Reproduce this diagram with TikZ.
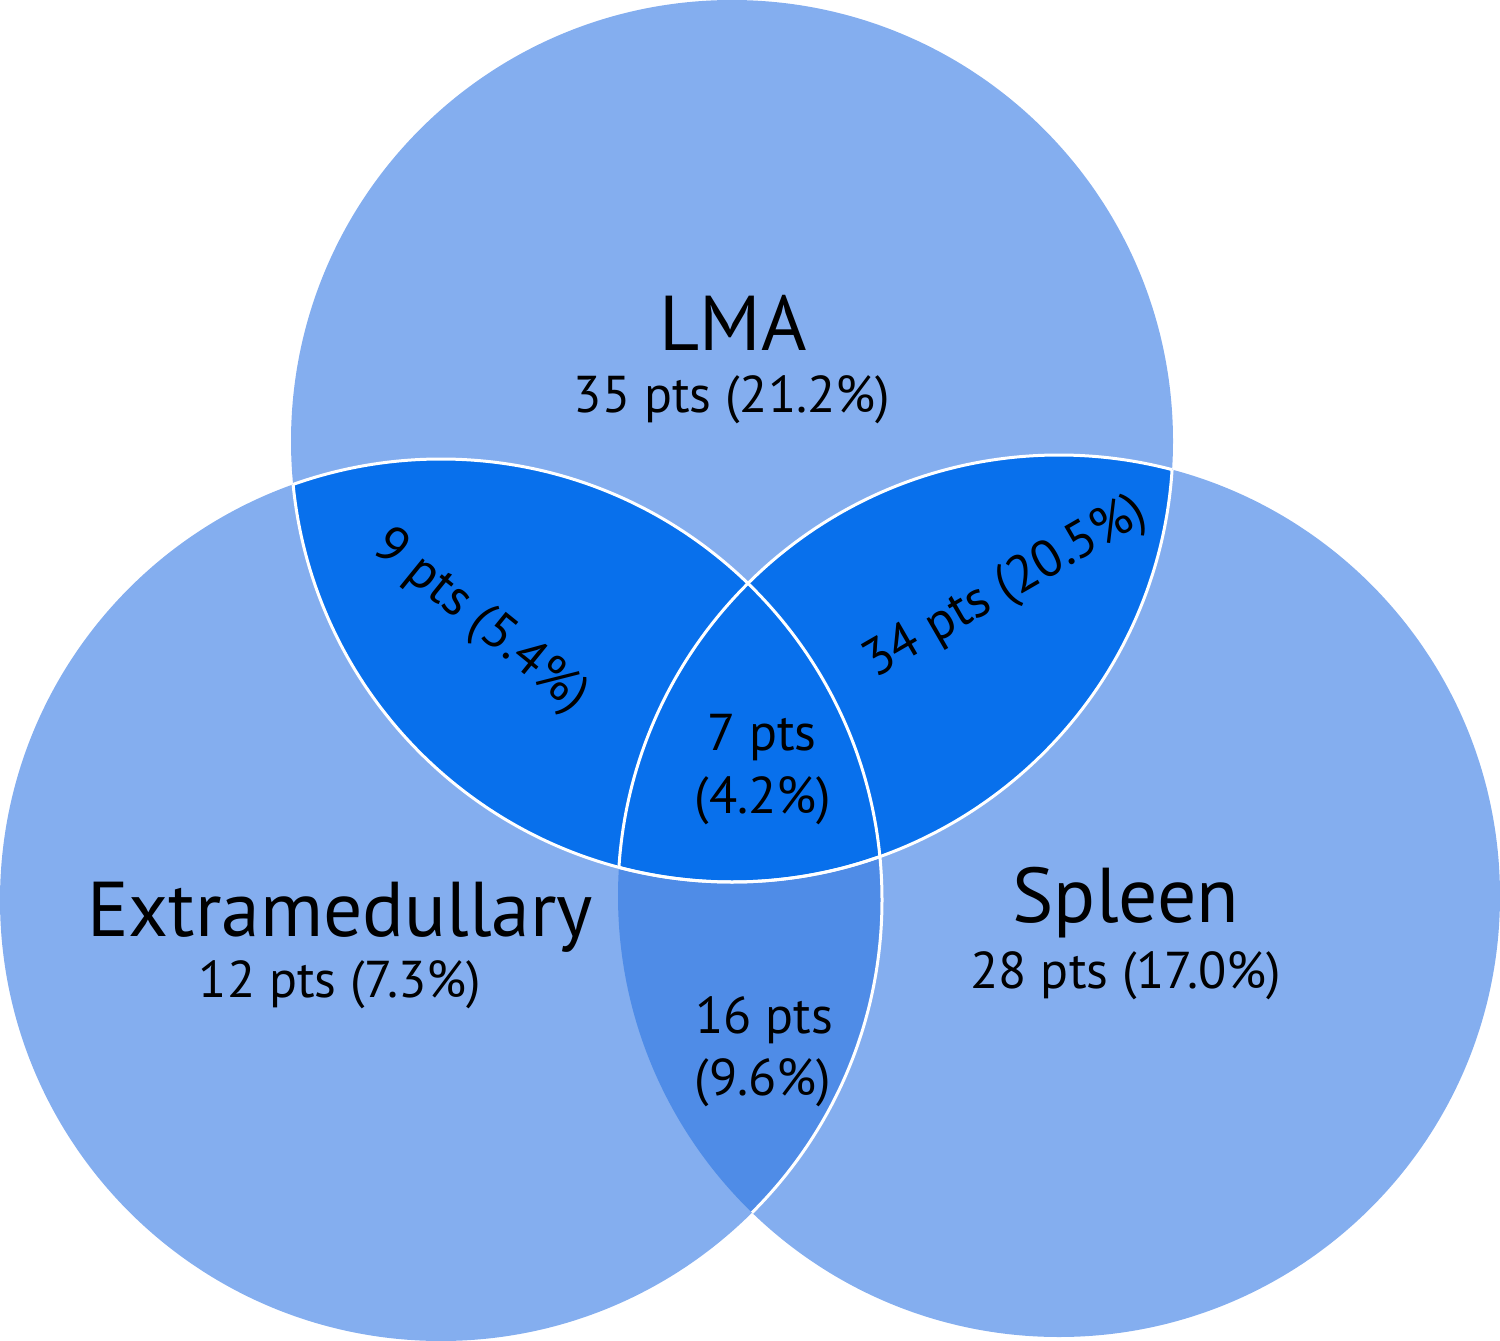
\documentclass[tikz,border=0pt]{standalone}
\usepackage{fontspec}
\setmainfont{PT Sans}
\usepackage{xcolor}
\usepackage{tikz}
\usetikzlibrary{positioning}
\definecolor{setlight}{RGB}{132,174,239}
\definecolor{setdark}{RGB}{8,112,236}
\definecolor{setmid}{RGB}{79,140,231}

\begin{document}
\begin{tikzpicture}[
  x=1bp, y=1bp,
  rim/.style={draw=white, line width=3bp},
  title/.style={anchor=base, inner sep=0pt, font=\fontsize{78}{80}\selectfont},
  count/.style={anchor=base, inner sep=0pt, font=\fontsize{52}{56}\selectfont},
  tilted/.style={inner sep=0pt, font=\fontsize{52}{56}\selectfont}
]
\useasboundingbox (0,0) rectangle (1500,-1341);
\def\rad{441}

\coordinate (lma)    at (732,-441);
\coordinate (extra)  at (441,-900);
\coordinate (spleen) at (1059,-896);

% plain sets
\fill[setlight] (lma) circle[radius=\rad];
\fill[setlight] (extra) circle[radius=\rad];
\fill[setlight] (spleen) circle[radius=\rad];

% extramedullary + spleen
\begin{scope}
  \clip (extra) circle[radius=\rad];
  \fill[setmid] (spleen) circle[radius=\rad];
\end{scope}
\begin{scope}
  \clip (spleen) circle[radius=\rad];
  \draw[rim] (extra) circle[radius=\rad];
\end{scope}

% overlaps with LMA
\begin{scope}
  \clip (lma) circle[radius=\rad];
  \fill[setdark] (extra) circle[radius=\rad];
  \fill[setdark] (spleen) circle[radius=\rad];
  \draw[rim] (extra) circle[radius=\rad];
  \draw[rim] (spleen) circle[radius=\rad];
\end{scope}
\begin{scope}
  \clip (extra) circle[radius=\rad];
  \draw[rim] (lma) circle[radius=\rad];
\end{scope}
\begin{scope}
  \clip (spleen) circle[radius=\rad];
  \draw[rim] (lma) circle[radius=\rad];
\end{scope}

% labels
\node[title] (lmaname)    at (733,-351)  {LMA};
\node[count] (lmacount)   at (732,-412)  {35 pts (21.2\%)};
\node[title] (extraname)  at (340,-936)  {Extramedullary};
\node[count] (extracount) at (340,-997)  {12 pts (7.3\%)};
\node[title] (spleenname) at (1126,-922) {Spleen};
\node[count] (spleencount) at (1126,-988) {28 pts (17.0\%)};

\node[count] (allcount)  at (762,-750)  {7 pts};
\node[count] (allpct)    at (763,-813)  {(4.2\%)};
\node[count] (escount)   at (764,-1033) {16 pts};
\node[count] (espct)     at (763,-1095) {(9.6\%)};

\node[tilted, rotate=-39] (lecount) at (480,-622)  {9 pts (5.4\%)};
\node[tilted, rotate=30]  (lscount) at (1006,-588) {34 pts (20.5\%)};

\end{tikzpicture}
\end{document}
